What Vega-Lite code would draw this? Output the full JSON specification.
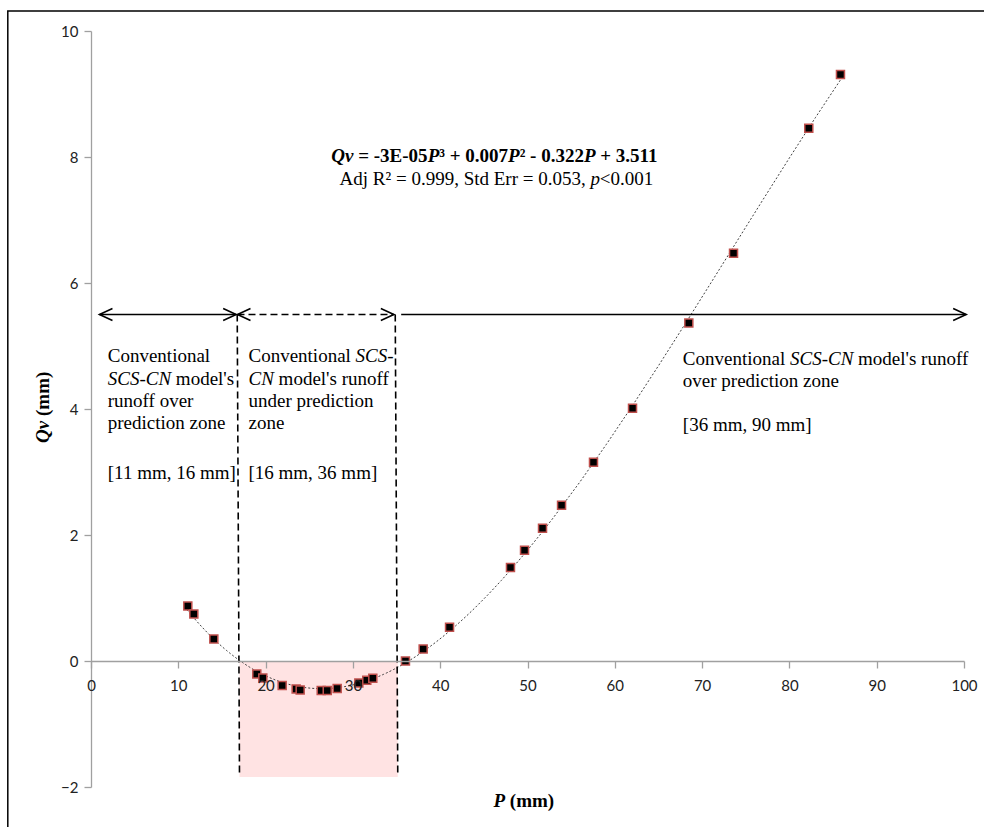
{
  "$schema": "https://vega.github.io/schema/vega-lite/v6.json",
  "width": 873,
  "height": 756,
  "autosize": {"type": "none"},
  "padding": {"left": 91, "top": 31, "right": 20, "bottom": 40},
  "background": "white",
  "config": {"view": {"stroke": null}},
  "datasets": {
    "obs": [
      {"P": 11.09, "Qv": 0.873}, {"P": 11.78, "Qv": 0.746}, {"P": 14.07, "Qv": 0.349},
      {"P": 18.99, "Qv": -0.206}, {"P": 19.68, "Qv": -0.27}, {"P": 21.9, "Qv": -0.39},
      {"P": 23.5, "Qv": -0.444}, {"P": 23.96, "Qv": -0.46}, {"P": 26.37, "Qv": -0.47},
      {"P": 27.06, "Qv": -0.47}, {"P": 28.2, "Qv": -0.438}, {"P": 30.68, "Qv": -0.349},
      {"P": 31.59, "Qv": -0.306}, {"P": 32.28, "Qv": -0.275}, {"P": 36.02, "Qv": 0.0},
      {"P": 38.05, "Qv": 0.19}, {"P": 41.07, "Qv": 0.535}, {"P": 48.05, "Qv": 1.483},
      {"P": 49.66, "Qv": 1.757}, {"P": 51.72, "Qv": 2.106}, {"P": 53.9, "Qv": 2.471},
      {"P": 57.56, "Qv": 3.154}, {"P": 62.03, "Qv": 4.011}, {"P": 68.48, "Qv": 5.365},
      {"P": 73.6, "Qv": 6.471}, {"P": 82.22, "Qv": 8.456}, {"P": 85.85, "Qv": 9.308}
    ],
    "frame": [{"x1": -9.53, "x2": 110, "y1": 10.317, "y2": -3.3}],
    "shade": [{"x1": 17.01, "x2": 35.14, "y1": 0, "y2": -1.84}],
    "vlines": [
      {"x1": 16.75, "x2": 17.01, "y1": 5.5, "y2": -1.83},
      {"x1": 34.85, "x2": 35.14, "y1": 5.5, "y2": -1.83}
    ],
    "solidArrows": [
      {"x1": 0.97, "x2": 16.63, "y": 5.5},
      {"x1": 35.53, "x2": 100.25, "y": 5.5}
    ],
    "dashedArrows": [{"x1": 16.78, "x2": 34.69, "y": 5.5}],
    "headsLeft": [{"x": 0.97, "y": 5.5}, {"x": 16.78, "y": 5.5}],
    "headsRight": [{"x": 16.63, "y": 5.5}, {"x": 34.69, "y": 5.5}, {"x": 100.25, "y": 5.5}],
    "txtRegular": [
      {"x": 28.47, "y": 7.551, "t": "Adj R² = 0.999, Std Err = 0.053,"},
      {"x": 58.29, "y": 7.551, "t": "<0.001"},
      {"x": 1.92, "y": 4.751, "t": "Conventional"},
      {"x": 9.72, "y": 4.376, "t": "model's"},
      {"x": 1.92, "y": 4.032, "t": "runoff over"},
      {"x": 1.92, "y": 3.689, "t": "prediction zone"},
      {"x": 1.92, "y": 2.884, "t": "[11 mm, 16 mm]"},
      {"x": 18.04, "y": 4.751, "t": "Conventional"},
      {"x": 21.49, "y": 4.376, "t": "model's runoff"},
      {"x": 18.04, "y": 4.032, "t": "under prediction"},
      {"x": 18.04, "y": 3.689, "t": "zone"},
      {"x": 18.04, "y": 2.884, "t": "[16 mm, 36 mm]"},
      {"x": 67.79, "y": 4.7, "t": "Conventional"},
      {"x": 87.86, "y": 4.7, "t": "model's runoff"},
      {"x": 67.79, "y": 4.356, "t": "over prediction zone"},
      {"x": 67.79, "y": 3.657, "t": "[36 mm, 90 mm]"}
    ],
    "txtItalic": [
      {"x": 57.21, "y": 7.551, "t": "p"},
      {"x": 1.92, "y": 4.376, "t": "SCS-CN"},
      {"x": 30.31, "y": 4.751, "t": "SCS-"},
      {"x": 18.04, "y": 4.376, "t": "CN"},
      {"x": 80.07, "y": 4.7, "t": "SCS-CN"}
    ],
    "txtBold": [
      {"x": 30.6, "y": 7.925, "t": "= -3E-05"},
      {"x": 39.89, "y": 7.925, "t": "³ + 0.007"},
      {"x": 49.1, "y": 7.925, "t": "² - 0.322"},
      {"x": 58.33, "y": 7.925, "t": "+ 3.511"},
      {"x": 47.98, "y": -2.322, "t": "(mm)"}
    ],
    "txtBoldItalic": [
      {"x": 27.51, "y": 7.925, "t": "Qv"},
      {"x": 38.56, "y": 7.925, "t": "P"},
      {"x": 47.77, "y": 7.925, "t": "P"},
      {"x": 56.46, "y": 7.925, "t": "P"},
      {"x": 46.11, "y": -2.322, "t": "P"}
    ],
    "yTitleBI": [{"x": -5.52, "y": 3.462, "t": "Qv"}],
    "yTitleB": [{"x": -5.52, "y": 3.889, "t": "(mm)"}]
  },
  "layer": [
    {
      "data": {"name": "shade"},
      "mark": {"type": "rect", "color": "#FFE3E3"},
      "encoding": {
        "x": {"field": "x1", "type": "quantitative", "title": null, "scale": {"domain": [0, 100], "nice": false, "zero": false}},
        "x2": {"field": "x2"},
        "y": {"field": "y1", "type": "quantitative", "title": null, "scale": {"domain": [-2, 10], "nice": false, "zero": false}},
        "y2": {"field": "y2"}
      }
    },
    {
      "data": {"name": "obs"},
      "transform": [{"regression": "Qv", "on": "P", "method": "poly", "order": 3, "extent": [11.0, 86.0]}],
      "mark": {"type": "line", "color": "#404040", "strokeWidth": 1, "strokeDash": [2, 2]},
      "encoding": {
        "x": {"field": "P", "type": "quantitative", "title": null},
        "y": {"field": "Qv", "type": "quantitative", "title": null}
      }
    },
    {
      "data": {"name": "obs"},
      "mark": {"type": "point", "shape": "square", "filled": true, "fill": "black", "stroke": "#C0504D", "strokeWidth": 1.5, "size": 64, "opacity": 1},
      "encoding": {
        "x": {
          "field": "P", "type": "quantitative", "title": null,
          "axis": {
            "orient": "bottom", "offset": -126, "values": [0, 10, 20, 30, 40, 50, 60, 70, 80, 90, 100],
            "format": "d", "zindex": 1,
            "title": null, "grid": false, "tickSize": 7, "labelPadding": 10, "labelFlush": false,
            "labelFont": "Lato", "labelFontSize": 15, "labelColor": "#222222",
            "domainColor": "#A0A0A0", "tickColor": "#A0A0A0", "domainWidth": 1.3, "tickWidth": 1.3
          }
        },
        "y": {
          "field": "Qv", "type": "quantitative", "title": null,
          "axis": {
            "values": [-2, 0, 2, 4, 6, 8, 10], "format": "d", "title": null, "grid": false, "tickSize": 7, "labelPadding": 6,
            "labelFlush": false, "labelFont": "Lato", "labelFontSize": 15, "labelColor": "#222222",
            "domainColor": "#A0A0A0", "tickColor": "#A0A0A0", "domainWidth": 1.3, "tickWidth": 1.3
          }
        }
      }
    },
    {
      "data": {"name": "vlines"},
      "mark": {"type": "rule", "color": "black", "strokeWidth": 1.6, "strokeDash": [7, 4]},
      "encoding": {
        "x": {"field": "x1", "type": "quantitative", "title": null},
        "x2": {"field": "x2"},
        "y": {"field": "y1", "type": "quantitative", "title": null},
        "y2": {"field": "y2"}
      }
    },
    {
      "data": {"name": "solidArrows"},
      "mark": {"type": "rule", "color": "black", "strokeWidth": 1.6},
      "encoding": {
        "x": {"field": "x1", "type": "quantitative", "title": null},
        "x2": {"field": "x2"},
        "y": {"field": "y", "type": "quantitative", "title": null}
      }
    },
    {
      "data": {"name": "dashedArrows"},
      "mark": {"type": "rule", "color": "black", "strokeWidth": 1.6, "strokeDash": [7, 4]},
      "encoding": {
        "x": {"field": "x1", "type": "quantitative", "title": null},
        "x2": {"field": "x2"},
        "y": {"field": "y", "type": "quantitative", "title": null}
      }
    },
    {
      "data": {"name": "headsLeft"},
      "mark": {"type": "point", "shape": "M2,-0.923L0,0L2,0.923", "filled": false, "stroke": "black", "strokeWidth": 1.6, "size": 169, "opacity": 1},
      "encoding": {
        "x": {"field": "x", "type": "quantitative", "title": null},
        "y": {"field": "y", "type": "quantitative", "title": null}
      }
    },
    {
      "data": {"name": "headsRight"},
      "mark": {"type": "point", "shape": "M-2,-0.923L0,0L-2,0.923", "filled": false, "stroke": "black", "strokeWidth": 1.6, "size": 169, "opacity": 1},
      "encoding": {
        "x": {"field": "x", "type": "quantitative", "title": null},
        "y": {"field": "y", "type": "quantitative", "title": null}
      }
    },
    {
      "data": {"name": "txtRegular"},
      "mark": {"type": "text", "font": "Liberation Serif", "fontSize": 19, "align": "left", "baseline": "alphabetic", "color": "black"},
      "encoding": {
        "x": {"field": "x", "type": "quantitative", "title": null},
        "y": {"field": "y", "type": "quantitative", "title": null},
        "text": {"field": "t"}
      }
    },
    {
      "data": {"name": "txtItalic"},
      "mark": {"type": "text", "font": "Liberation Serif", "fontSize": 19, "fontStyle": "italic", "align": "left", "baseline": "alphabetic", "color": "black"},
      "encoding": {
        "x": {"field": "x", "type": "quantitative", "title": null},
        "y": {"field": "y", "type": "quantitative", "title": null},
        "text": {"field": "t"}
      }
    },
    {
      "data": {"name": "txtBold"},
      "mark": {"type": "text", "font": "Liberation Serif", "fontSize": 19, "fontWeight": "bold", "align": "left", "baseline": "alphabetic", "color": "black"},
      "encoding": {
        "x": {"field": "x", "type": "quantitative", "title": null},
        "y": {"field": "y", "type": "quantitative", "title": null},
        "text": {"field": "t"}
      }
    },
    {
      "data": {"name": "txtBoldItalic"},
      "mark": {"type": "text", "font": "Liberation Serif", "fontSize": 19, "fontWeight": "bold", "fontStyle": "italic", "align": "left", "baseline": "alphabetic", "color": "black"},
      "encoding": {
        "x": {"field": "x", "type": "quantitative", "title": null},
        "y": {"field": "y", "type": "quantitative", "title": null},
        "text": {"field": "t"}
      }
    },
    {
      "data": {"name": "yTitleBI"},
      "mark": {"type": "text", "font": "Liberation Serif", "fontSize": 19, "fontWeight": "bold", "fontStyle": "italic", "align": "left", "baseline": "middle", "angle": 270, "color": "black"},
      "encoding": {
        "x": {"field": "x", "type": "quantitative", "title": null},
        "y": {"field": "y", "type": "quantitative", "title": null},
        "text": {"field": "t"}
      }
    },
    {
      "data": {"name": "yTitleB"},
      "mark": {"type": "text", "font": "Liberation Serif", "fontSize": 19, "fontWeight": "bold", "align": "left", "baseline": "middle", "angle": 270, "color": "black"},
      "encoding": {
        "x": {"field": "x", "type": "quantitative", "title": null},
        "y": {"field": "y", "type": "quantitative", "title": null},
        "text": {"field": "t"}
      }
    },
    {
      "data": {"name": "frame"},
      "mark": {"type": "rect", "fill": "transparent", "fillOpacity": 0, "stroke": "black", "strokeWidth": 1.5},
      "encoding": {
        "x": {"field": "x1", "type": "quantitative", "title": null},
        "x2": {"field": "x2"},
        "y": {"field": "y1", "type": "quantitative", "title": null},
        "y2": {"field": "y2"}
      }
    }
  ]
}
